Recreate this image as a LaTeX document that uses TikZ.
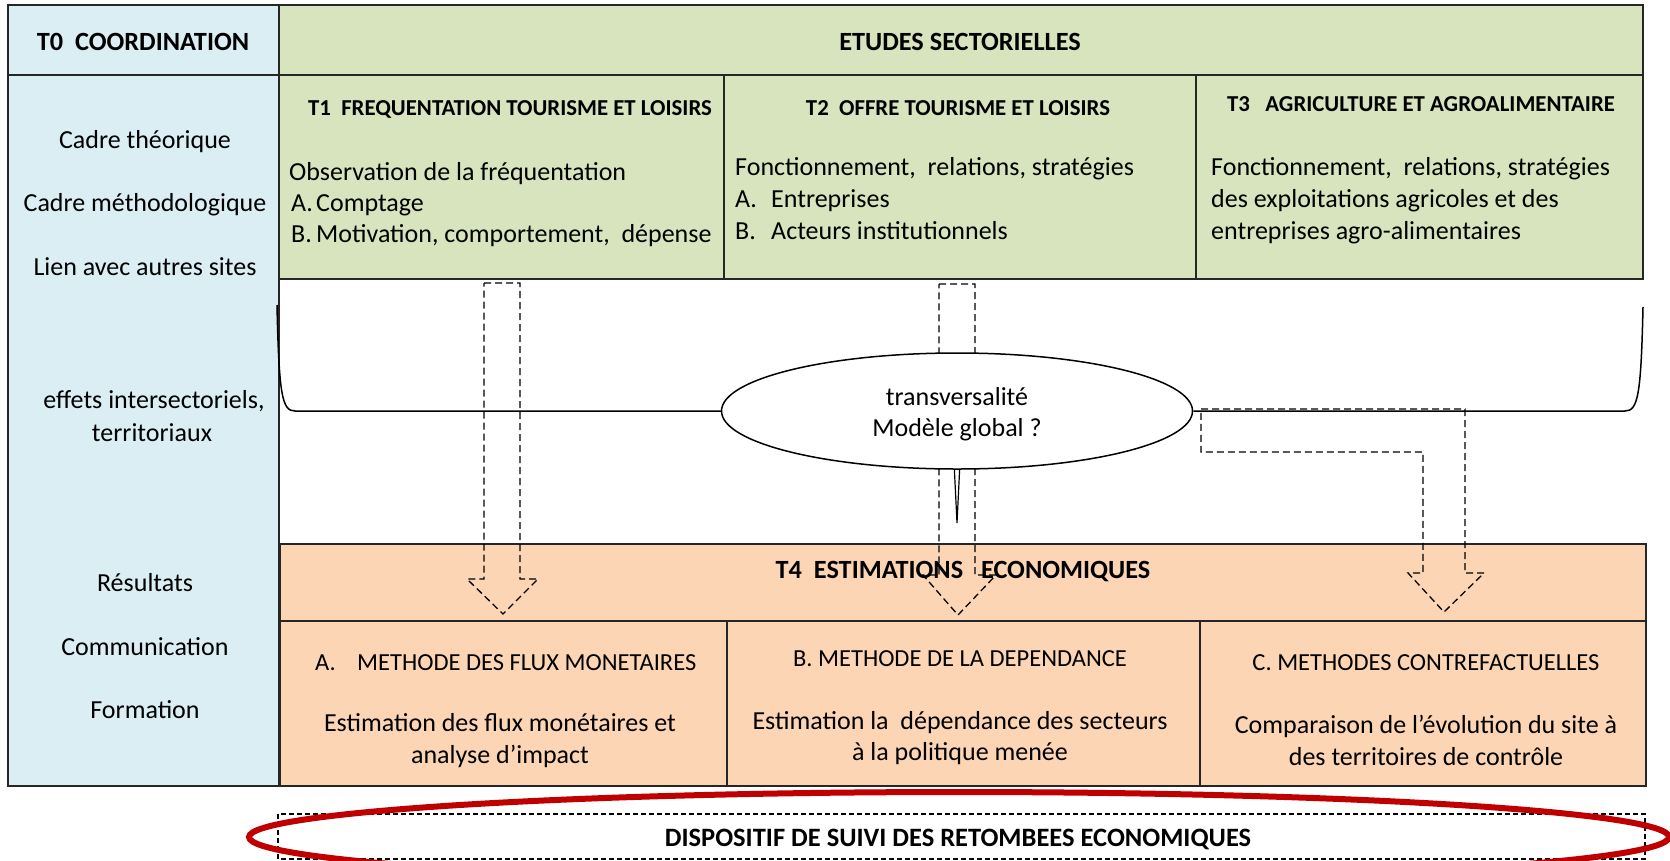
\documentclass[tikz,border=0pt]{standalone}
\usepackage{fontspec}
\setmainfont{Carlito}
\usetikzlibrary{shapes.geometric}
\definecolor{tblue}{HTML}{DAEEF3}
\definecolor{tgreen}{HTML}{D7E4BD}
\definecolor{torange}{HTML}{FCD5B5}
\definecolor{tred}{HTML}{C00000}
\definecolor{tline}{HTML}{262626}
\tikzset{
  outer/.style={draw=tline, line width=2pt},
  inner/.style={draw=tline, line width=1.5pt},
  darrow/.style={draw=black, line width=1.3pt, dash pattern=on 7pt off 4pt},
  body/.style={inner sep=0pt, anchor=base west, font=\fontsize{26}{31}\selectfont},
  cbody/.style={inner sep=0pt, anchor=base, font=\fontsize{26}{31}\selectfont},
  bighead/.style={inner sep=0pt, anchor=base, font=\bfseries\fontsize{26.3}{31}\selectfont},
  subhead/.style={inner sep=0pt, anchor=base, font=\bfseries\fontsize{22.8}{27}\selectfont},
  mtitle/.style={inner sep=0pt, anchor=base, font=\fontsize{24.5}{29}\selectfont},
}
\begin{document}
\begin{tikzpicture}[x=1pt,y=-1pt]
\useasboundingbox (0,0) rectangle (1670,860);
\clip (0,0) rectangle (1670,860);

% T0 column
\path[outer, fill=tblue] (8,5) rectangle (279,786);
\path[outer] (8,75) -- (279,75);
% green block
\path[outer, fill=tgreen] (279,5) rectangle (1643,279);
\path[outer] (279,75) -- (1643,75);
\path[inner] (724,75) -- (724,279);
\path[inner] (1196,75) -- (1196,279);
% orange block
\path[outer, fill=torange] (280,544) rectangle (1646,786);
\path[inner] (280,621) -- (1646,621);
\path[inner] (727,621) -- (727,786);
\path[inner] (1200,621) -- (1200,786);

% texts T0 column
\node[bighead] (t0) at (143,50) {T0\ \ COORDINATION};
\node[cbody] (c1) at (145,148) {Cadre théorique};
\node[cbody] (c2) at (145,211) {Cadre méthodologique};
\node[cbody] (c3) at (145,275) {Lien avec autres sites};
\node[cbody] (c4) at (154,408) {effets intersectoriels,};
\node[cbody] (c5) at (152,441) {territoriaux};
\node[cbody] (c6) at (145,591) {Résultats};
\node[cbody] (c7) at (145,655) {Communication};
\node[cbody] (c8) at (145,718) {Formation};

% green texts
\node[bighead] (etudes) at (960,50) {ETUDES SECTORIELLES};
\node[subhead] (t1h) at (510,115) {T1\ \ FREQUENTATION TOURISME ET LOISIRS};
\node[subhead] (t2h) at (958,115) {T2\ \ OFFRE TOURISME ET LOISIRS};
\node[subhead] (t3h) at (1421,111) {T3\ \ \ AGRICULTURE ET AGROALIMENTAIRE};

\node[body] (t1a) at (289,180) {Observation de la fréquentation};
\node[body] (t1b) at (291,211) {A.};
\node[body] (t1c) at (316,211) {Comptage};
\node[body] (t1d) at (291,242) {B.};
\node[body] (t1e) at (316,242) {Motivation, comportement,\ \ dépense};

\node[body] (t2a) at (735,175) {Fonctionnement,\ \ relations,\ stratégies};
\node[body] (t2b) at (735,207) {A.};
\node[body] (t2c) at (771,207) {Entreprises};
\node[body] (t2d) at (735,239) {B.};
\node[body] (t2e) at (771,239) {Acteurs institutionnels};

\node[body] (t3a) at (1211,175) {Fonctionnement,\ \ relations,\ stratégies};
\node[body] (t3b) at (1211,207) {des exploitations agricoles et des};
\node[body] (t3c) at (1211,239) {entreprises agro-alimentaires};

% orange texts
\node[bighead] (t4h) at (963,578) {T4\ \ ESTIMATIONS\ \ \ ECONOMIQUES};
\node[mtitle, anchor=base west] (maA) at (315,670) {A.};
\node[mtitle, anchor=base west] (maB) at (357,670) {METHODE DES FLUX MONETAIRES};
\node[mtitle] (mb) at (960,666) {B. METHODE DE LA DEPENDANCE};
\node[mtitle] (mc) at (1426,670) {C. METHODES CONTREFACTUELLES};
\node[cbody] (ea1) at (500,731) {Estimation des flux monétaires et};
\node[cbody] (ea2) at (500,763) {analyse d’impact};
\node[cbody] (eb1) at (960,729) {Estimation la\ \ dépendance des secteurs};
\node[cbody] (eb2) at (960,760) {à la politique menée};
\node[cbody] (ec1) at (1426,733) {Comparaison de l’évolution du site à};
\node[cbody] (ec2) at (1426,765) {des territoires de contrôle};

% dashed block arrows
\path[darrow] (484,283) -- (520,283) -- (520,579) -- (538,579) -- (503,614) -- (467,579) -- (484,579) -- cycle;
\path[darrow] (939,284) -- (975,284) -- (975,575) -- (996,575) -- (958,615) -- (923,575) -- (939,575) -- cycle;
\path[darrow] (1201,409) -- (1465,409) -- (1465,573) -- (1484,573) -- (1444,612) -- (1408,573) -- (1423,573) -- (1423,452) -- (1201,452) -- cycle;

% callout spike and ellipse
\draw[line width=1.2pt, fill=white] (954,462) -- (957,523) -- (960,462) -- cycle;
\node[ellipse, draw=black, line width=1.5pt, fill=white, minimum width=471pt, minimum height=116pt, inner sep=0pt] (ell) at (957,411) {};
\node[cbody] (tr1) at (957,405) {transversalité};
\node[cbody] (tr2) at (957,436) {Modèle global ?};

% bracket
\coordinate (bl) at (277,305);
\coordinate (br) at (1643,307);
\draw[line width=1.5pt] (bl) .. controls (279,395) and (282,411) .. (295,411) -- (ell.west);
\draw[line width=1.5pt] (br) .. controls (1641,395) and (1638,411) .. (1625,411) -- (ell.east);

% bottom
\draw[line width=1.1pt, dash pattern=on 5pt off 3pt] (278,814) rectangle (1645,859);
\node[inner sep=0pt, anchor=base, font=\bfseries\fontsize{26.5}{31}\selectfont] (dispo) at (958,846) {DISPOSITIF DE SUIVI DES RETOMBEES ECONOMIQUES};
\draw[tred, line width=6pt] (959,837) ellipse [x radius=710, y radius=45];
\end{tikzpicture}
\end{document}
